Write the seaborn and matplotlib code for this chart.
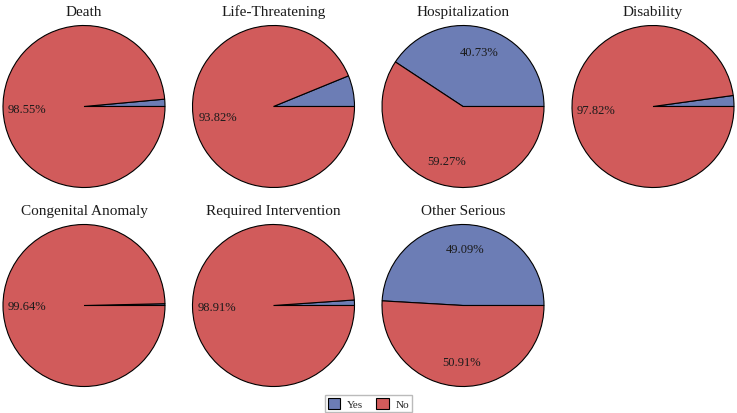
# Serious outcome pies (Yes / No share)
import matplotlib
matplotlib.use('Agg')
import matplotlib.pyplot as plt
from matplotlib.patches import Patch
import seaborn as sns

# data
outcomes = ['Death', 'Life-Threatening', 'Hospitalization', 'Disability',
            'Congenital Anomaly', 'Required Intervention', 'Other Serious']
yes_pct = [1.45, 6.18, 40.73, 2.18, 0.36, 1.09, 49.09]
no_pct = [98.55, 93.82, 59.27, 97.82, 99.64, 98.91, 50.91]
answer_labels = ['Yes', 'No']

sns.set_style('white')
plt.rcParams['font.family'] = ['Liberation Serif', 'DejaVu Serif']

colors = ['#6c7db5', '#d15b5b']

W, H = 737, 414
fig = plt.figure(figsize=(W / 100, H / 100), dpi=100)

# pie centres in pixels (col x, row y), radius in pixels
col_x = [84, 273.5, 463, 653]
row_y = [107.5, 306.5]
r = 81
pad = 1.03

for i, name in enumerate(outcomes):
    cx = col_x[i % 4]
    cy = row_y[i // 4]
    half = r * pad
    ax = fig.add_axes([(cx - half) / W, 1 - (cy + half) / H,
                       2 * half / W, 2 * half / H])
    ax.pie([yes_pct[i], no_pct[i]], colors=colors, startangle=0,
           counterclock=True,
           autopct=lambda p: f'{p:.2f}%' if p > 10 else '',
           pctdistance=0.7,
           wedgeprops=dict(edgecolor='black', linewidth=0.8),
           textprops=dict(fontsize=9, color='#1a1a1a'))
    ax.set_xlim(-pad, pad)
    ax.set_ylim(-pad, pad)
    ax.set_aspect('equal')
    ax.axis('off')
    fig.text(cx / W, 1 - (cy - 95) / H, name, ha='center', va='center',
             fontsize=11, color='#1a1a1a')

handles = [Patch(facecolor=c, edgecolor='black', linewidth=0.8) for c in colors]
fig.legend(handles, answer_labels, loc='lower center', ncol=2,
           bbox_to_anchor=(0.5, -0.012), fontsize=8, frameon=True,
           fancybox=False, edgecolor='#aaaaaa', handlelength=1.1,
           handleheight=1.1, columnspacing=1.2, handletextpad=0.6,
           borderpad=0.3)

fig.savefig('out.png', dpi=100)
